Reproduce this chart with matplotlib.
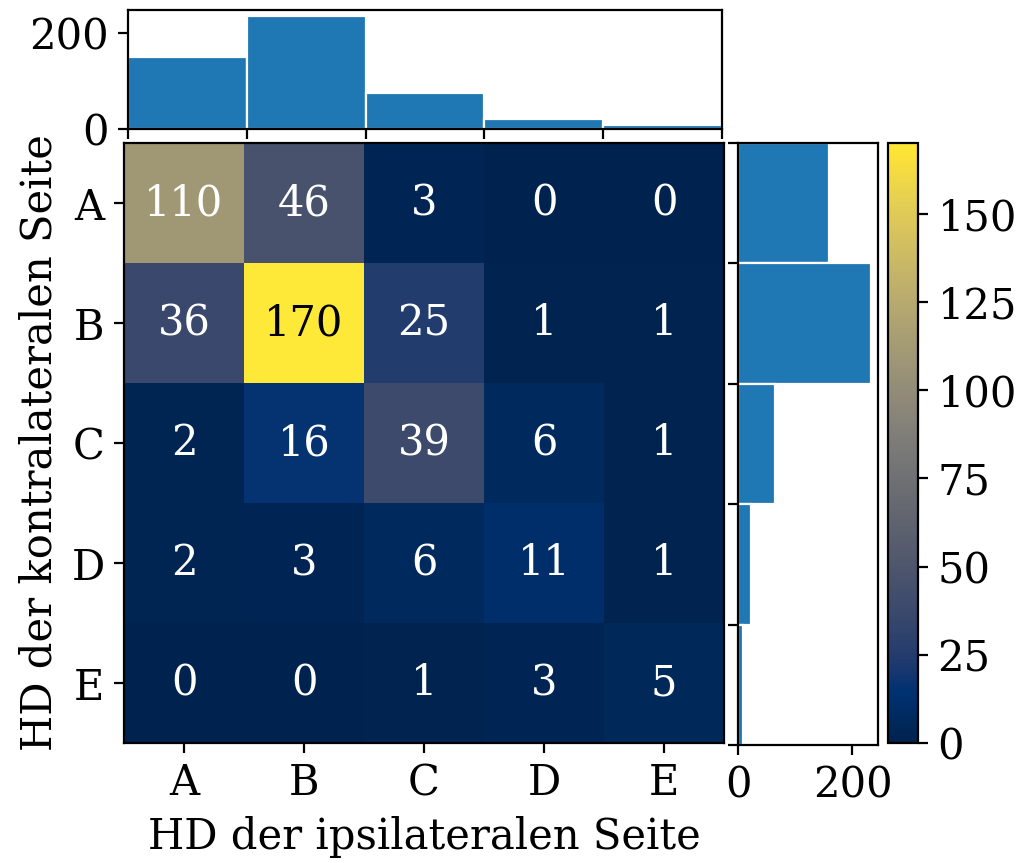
import numpy as np
import matplotlib
matplotlib.use("Agg")
import matplotlib.pyplot as plt

categories = ["A", "B", "C", "D", "E"]
# rows: contralateral, columns: ipsilateral
row_A = [110, 46, 3, 0, 0]
row_B = [36, 170, 25, 1, 1]
row_C = [2, 16, 39, 6, 1]
row_D = [2, 3, 6, 11, 1]
row_E = [0, 0, 1, 3, 5]
xlabel = "HD der ipsilateralen Seite"
ylabel = "HD der kontralateralen Seite"

plt.rcParams["font.family"] = ["DejaVu Serif"]
plt.rcParams["font.size"] = 15

mat = np.array([row_A, row_B, row_C, row_D, row_E])
col_sums = mat.sum(axis=0)
row_sums = mat.sum(axis=1)
n = len(categories)

W, H = 1028, 863
fig = plt.figure(figsize=(W / 200, H / 200), dpi=200)

def box(x0, y0, x1, y1):
    return [x0 / W, (H - y1) / H, (x1 - x0) / W, (y1 - y0) / H]

ax = fig.add_axes(box(124, 143, 724, 743))
axt = fig.add_axes(box(128, 10, 722, 129))
axr = fig.add_axes(box(738, 143, 878, 745))
cax = fig.add_axes(box(888, 143, 918, 743))

cmap = plt.get_cmap("cividis")
vmax = 170
mesh = ax.pcolormesh(np.arange(n + 1), np.arange(n + 1), mat, cmap=cmap, vmin=0, vmax=vmax)
ax.set_xlim(0, n)
ax.set_ylim(n, 0)
ax.set_xticks(np.arange(n) + 0.5)
ax.set_xticklabels(categories)
ax.set_yticks(np.arange(n) + 0.5)
ax.set_yticklabels(categories, rotation=0)
ax.set_xlabel(xlabel)
ax.set_ylabel(ylabel)


def rel_lum(c):
    rgb = np.array(c[:3])
    rgb = np.where(rgb <= 0.03928, rgb / 12.92, ((rgb + 0.055) / 1.055) ** 2.4)
    return rgb.dot([0.2126, 0.7152, 0.0722])


for i in range(n):
    for j in range(n):
        v = mat[i, j]
        color = "black" if rel_lum(cmap(v / vmax)) > 0.408 else "white"
        ax.text(j + 0.5, i + 0.5, str(v), ha="center", va="center", color=color, fontsize=15)

# top histogram
axt.bar(np.arange(n), col_sums, width=1.0, align="edge", color="#1f77b4", edgecolor="white", linewidth=0.8)
axt.set_xlim(0, n)
axt.set_xticks(np.arange(n + 1))
axt.set_xticklabels([])
axt.set_yticks([0, 200])

# right histogram
axr.barh(np.arange(n), row_sums, height=1.0, align="edge", color="#1f77b4", edgecolor="white", linewidth=0.8)
axr.set_ylim(n, 0)
axr.set_yticks(np.arange(n + 1))
axr.set_yticklabels([])
axr.set_xticks([0, 200])

cb = fig.colorbar(mesh, cax=cax)
cb.set_ticks([0, 25, 50, 75, 100, 125, 150])

fig.savefig("out.png", dpi=200)
